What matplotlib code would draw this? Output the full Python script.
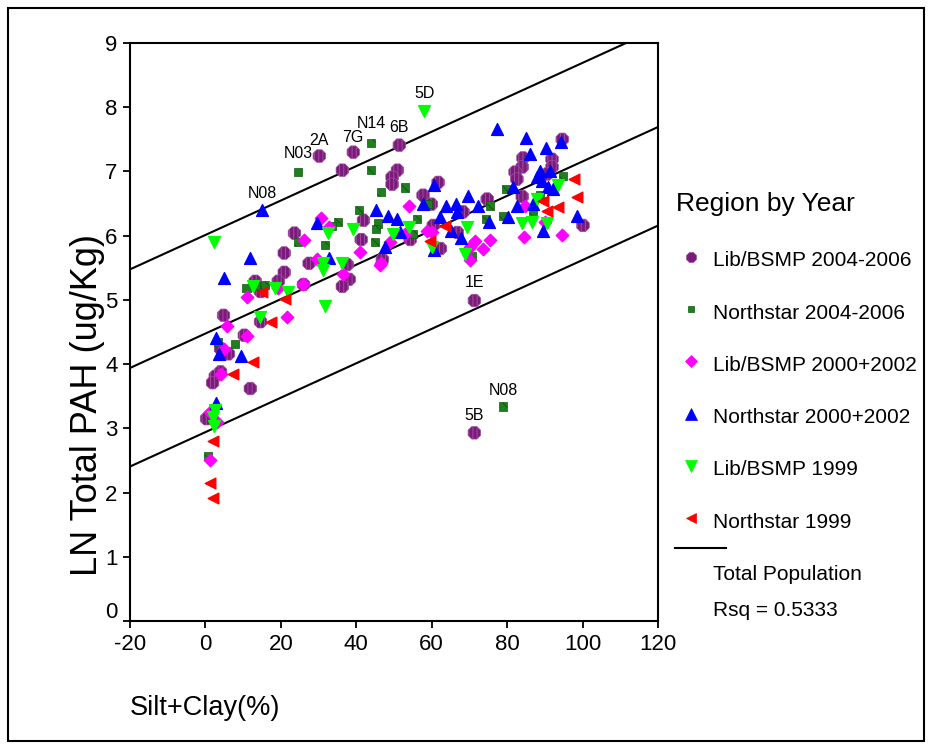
import matplotlib
matplotlib.use("Agg")
import matplotlib.pyplot as plt
import matplotlib.transforms as mtransforms
from matplotlib.lines import Line2D
from matplotlib.patches import Rectangle

# sediment samples: silt+clay (%) vs ln total PAH, by program and year
lib_0406_x = [30.2, 39.2, 36.3, 51.4, 50.9, 49.5, 49.5, 61.7, 57.7, 59.9, 74.7, 68.3, 60.4,
              66.8, 62.3, 54.3, 46.9, 71.3, 94.6, 91.9, 84.2, 84.0, 82.1, 82.6, 91.9, 90.6,
              84.0, 100.1, 41.9, 23.6, 41.3, 20.9, 20.9, 27.5, 37.6, 38.1, 36.3, 19.3, 13.2,
              14.6, 26.0, 4.8, 14.6, 10.3, 4.0, 6.1, 4.0, 2.6, 1.9, 11.9, 0.3, 71.3]
lib_0406_y = [7.24, 7.30, 7.02, 7.41, 7.02, 6.91, 6.80, 6.83, 6.63, 6.49, 6.57, 6.37, 6.16,
              6.05, 5.80, 5.94, 5.63, 4.99, 7.50, 7.19, 7.21, 7.07, 6.99, 6.88, 7.07, 6.96,
              6.61, 6.16, 6.24, 6.04, 5.94, 5.73, 5.43, 5.57, 5.55, 5.32, 5.21, 5.29, 5.29,
              5.13, 5.24, 4.76, 4.66, 4.45, 4.24, 4.16, 3.88, 3.81, 3.71, 3.62, 3.15, 2.93]

ns_0406_x = [24.6, 44.0, 44.0, 46.6, 40.8, 35.2, 33.6, 45.8, 45.3, 45.0, 24.6, 31.8, 10.9,
             15.9, 13.5, 3.4, 7.9, 0.8, 53.0, 59.1, 75.5, 56.2, 55.1, 74.4, 78.9, 79.7, 86.9,
             88.7, 94.8, 70.7, 78.9]
ns_0406_y = [6.99, 7.44, 7.02, 6.68, 6.40, 6.21, 6.15, 6.19, 6.10, 5.90, 5.90, 5.85, 5.19,
             5.23, 5.21, 4.34, 4.31, 2.57, 6.75, 6.49, 6.47, 6.26, 6.02, 6.26, 6.30, 6.72, 6.38,
             6.63, 6.93, 5.68, 3.34]

lib_0002_x = [30.7, 26.2, 41.1, 46.4, 29.7, 36.6, 26.0, 19.3, 11.1, 21.7, 5.8, 11.1, 5.0,
              4.0, 1.3, 3.2, 1.1, 54.0, 46.6, 49.0, 58.8, 60.1, 70.2, 71.5, 73.6, 75.5, 70.2,
              84.8, 84.5, 94.6, 90.1, 32.8, 53.0]
lib_0002_y = [6.27, 5.94, 5.74, 5.55, 5.63, 5.40, 5.24, 5.19, 5.04, 4.74, 4.59, 4.43, 4.24,
              3.85, 3.26, 3.10, 2.51, 6.46, 5.57, 5.90, 6.07, 6.05, 5.83, 5.91, 5.80, 5.94, 5.62,
              6.46, 5.98, 6.01, 6.22, 6.13, 6.02]

ns_0002_x = [15.1, 29.7, 45.3, 48.5, 11.9, 4.8, 32.8, 47.7, 2.9, 3.7, 9.5, 2.9, 77.4, 85.0,
             86.1, 90.3, 94.3, 60.7, 50.9, 57.7, 63.8, 66.5, 69.7, 72.3, 62.3, 66.8, 75.2, 80.3,
             81.6, 82.6, 86.9, 88.7, 91.4, 89.3, 90.9, 92.2, 87.9, 89.5, 98.5, 65.2, 67.8, 60.7,
             51.7]
ns_0002_y = [6.40, 6.19, 6.40, 6.30, 5.66, 5.34, 5.66, 5.83, 4.40, 4.16, 4.13, 3.39, 7.66, 7.52,
             7.27, 7.36, 7.46, 6.79, 6.26, 6.49, 6.46, 6.49, 6.61, 6.46, 6.29, 6.37, 6.22, 6.29,
             6.76, 6.46, 6.49, 7.00, 7.00, 6.85, 6.76, 6.72, 6.91, 6.07, 6.30, 6.08, 5.96, 5.77,
             6.05]

lib_99_x = [2.4, 32.6, 39.2, 31.3, 31.3, 36.3, 12.7, 18.5, 22.0, 31.8, 14.6, 2.6, 2.1, 2.4,
            58.0, 54.0, 49.8, 69.4, 68.9, 60.1, 84.0, 86.6, 90.6, 87.9, 93.5]
lib_99_y = [5.90, 6.04, 6.10, 5.58, 5.46, 5.58, 5.21, 5.18, 5.12, 4.91, 4.74, 3.29, 3.18, 3.04,
            7.94, 6.13, 6.02, 6.13, 5.71, 5.82, 6.19, 6.22, 6.19, 6.57, 6.79]

ns_99_x = [15.1, 21.2, 17.5, 12.5, 7.2, 2.1, 1.1, 2.1, 97.7, 98.5, 93.5, 89.5, 90.6, 63.6, 59.6]
ns_99_y = [5.12, 5.02, 4.65, 4.04, 3.85, 2.81, 2.15, 1.92, 6.88, 6.60, 6.44, 6.54, 6.38, 6.15, 5.91]

# labelled stations
station_names = ["N08", "N03", "2A", "7G", "N14", "6B", "5D", "1E", "5B", "N08"]
station_x = [15.1, 24.6, 30.2, 39.2, 44.0, 51.4, 58.0, 71.3, 71.3, 78.9]
station_y = [6.40, 6.99, 7.24, 7.30, 7.44, 7.41, 7.94, 4.99, 2.93, 3.34]

# fit for the total population and the band around it
fit_intercept = 4.476
fit_slope = 0.0268
band_half_width = 1.535
rsq = 0.5333

series_names = ["Lib/BSMP 2004-2006", "Northstar 2004-2006", "Lib/BSMP 2000+2002",
                "Northstar 2000+2002", "Lib/BSMP 1999", "Northstar 1999"]

plt.rcParams["font.family"] = ["Liberation Sans", "DejaVu Sans"]
plt.rcParams["hatch.linewidth"] = 0.7
plt.rcParams["axes.unicode_minus"] = False

W, H = 932, 744
fig = plt.figure(figsize=(W / 100, H / 100), dpi=100)


def fx(px):
    return px / W


def fy(py):
    return 1 - py / H


ax = fig.add_axes([fx(130), fy(621), (658 - 130) / W, (621 - 43) / H])

styles = [
    dict(marker="8", s=95, facecolor="#7a1a7a", edgecolor="#a24ea2", hatch="||||", linewidths=0.5),
    dict(marker="s", s=34, facecolor="#1f7f1f", edgecolor="#0d5a0d", hatch="\\\\", linewidths=0.5),
    dict(marker="D", s=40, color="#ff00ff"),
    dict(marker="^", s=72, color="#0000ff"),
    dict(marker="v", s=72, color="#00ff00"),
    dict(marker="<", s=58, color="#ff0000"),
]
xs = [lib_0406_x, ns_0406_x, lib_0002_x, ns_0002_x, lib_99_x, ns_99_x]
ys = [lib_0406_y, ns_0406_y, lib_0002_y, ns_0002_y, lib_99_y, ns_99_y]
for x, y, st in zip(xs, ys, styles):
    ax.scatter(x, y, zorder=3, **st)

# regression line with upper / lower band
line_x = [-20, 120]
fit_y = [fit_intercept + fit_slope * v for v in line_x]
for off in (0, band_half_width, -band_half_width):
    ax.plot(line_x, [v + off for v in fit_y], color="black", lw=1.5, zorder=2)

# label lift above each marker, in pixels
label_lift = [16, 19, 16, 15, 20, 18, 18, 18, 17, 16]
for name, x, y, dy in zip(station_names, station_x, station_y, label_lift):
    ax.annotate(name, (x, y), xytext=(0, dy * 0.72), textcoords="offset points",
                ha="center", va="center", fontsize=11.5)

ax.set_xlim(-20, 120)
ax.set_ylim(0, 9)
ax.set_xticks(range(-20, 121, 20))
ax.set_yticks(range(0, 10))
ax.tick_params(direction="out", length=5, width=1.3, labelsize=16, pad=4)
for sp in ax.spines.values():
    sp.set_linewidth(1.5)

# lift the 0 label off the x axis
zero = ax.yaxis.get_major_ticks()[0].label1
zero.set_transform(zero.get_transform() + mtransforms.ScaledTranslation(0, 8 / 72, fig.dpi_scale_trans))

fig.text(fx(88), fy(405), "LN Total PAH (ug/Kg)", rotation=90, ha="center", va="center",
         fontsize=26)
fig.text(fx(130), fy(708), "Silt+Clay(%)", ha="left", va="center", fontsize=19.5)

# legend
fig.text(fx(676), fy(204), "Region by Year", ha="left", va="center", fontsize=19)
leg_sizes = [8.0, 5.0, 6.5, 8.0, 8.0, 7.0]
for i, (name, st, ms) in enumerate(zip(series_names, styles, leg_sizes)):
    ty = 261 + i * 52.2
    fc = st.get("facecolor", st.get("color"))
    ec = st.get("edgecolor", st.get("color"))
    fig.add_artist(Line2D([fx(691)], [fy(ty - 4)], marker=st["marker"], markersize=ms,
                          markerfacecolor=fc, markeredgecolor=ec, markeredgewidth=0.5,
                          linestyle="none", transform=fig.transFigure))
    fig.text(fx(713), fy(ty), name, ha="left", va="center", fontsize=15)
fig.add_artist(Line2D([fx(675), fx(726)], [fy(548), fy(548)], color="black", lw=1.5,
                      transform=fig.transFigure))
fig.text(fx(713), fy(574), "Total Population", ha="left", va="center", fontsize=15)
fig.text(fx(713), fy(610), f"Rsq = {rsq:.4f}", ha="left", va="center", fontsize=15)

fig.add_artist(Rectangle((fx(8), fy(741)), (924 - 8) / W, (741 - 8) / H, fill=False,
                         lw=1.5, edgecolor="black", transform=fig.transFigure))

fig.savefig("out.png", dpi=100)
